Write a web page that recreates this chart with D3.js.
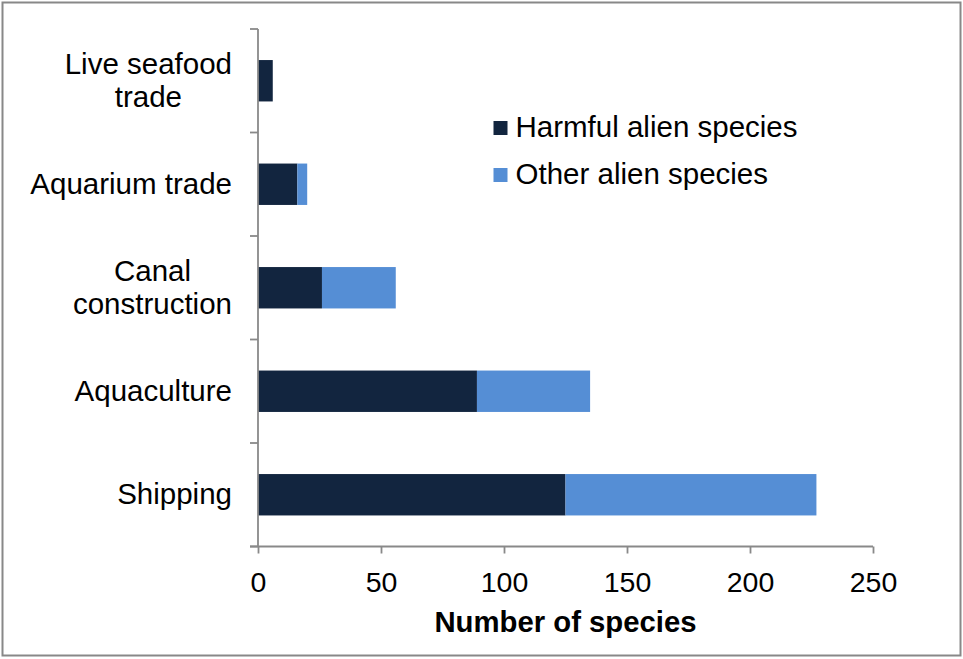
<!DOCTYPE html>
<html>
<head>
<meta charset="utf-8">
<script src="https://cdn.jsdelivr.net/npm/d3@7"></script>
<style>
  html, body { margin: 0; padding: 0; background: #fff; }
  svg { display: block; font-family: "Liberation Sans", Arial, Helvetica, sans-serif; }
</style>
</head>
<body>
<svg id="chart" width="963" height="659"></svg>
<script>
// Pathways of introduction, top to bottom
const categories = ["Live seafood trade", "Aquarium trade", "Canal construction", "Aquaculture", "Shipping"];
const categoryLines = [["Live seafood", "trade"], ["Aquarium trade"], ["Canal", "construction"], ["Aquaculture"], ["Shipping"]];
const harmful = [6, 16, 26, 89, 125];
const other = [0, 4, 30, 46, 102];
const seriesNames = ["Harmful alien species", "Other alien species"];
const seriesColors = ["#12253f", "#558ed5"];
const xTicks = [0, 50, 100, 150, 200, 250];
const xTitle = "Number of species";

const svg = d3.select("#chart");
const axisColor = "#898989";
const tickFont = 28.5;
const labelFont = 29.5;

// outer frame
svg.append("rect")
  .attr("x", 2.5).attr("y", 2.5)
  .attr("width", 958).attr("height", 653)
  .attr("fill", "#fff").attr("stroke", "#888").attr("stroke-width", 2);

const x = d3.scaleLinear().domain([0, 250]).range([258, 873]);
const y = d3.scaleBand().domain(categories).range([29, 546.5])
  .paddingInner(0.6).paddingOuter(0.3);

const rows = categories.map((c, i) => ({ cat: c, harmful: harmful[i], other: other[i] }));
const stack = d3.stack().keys(["harmful", "other"]);
const layers = stack(rows);

svg.append("g").selectAll("g")
  .data(layers)
  .join("g")
  .attr("fill", (d, i) => seriesColors[i])
  .selectAll("rect")
  .data(d => d)
  .join("rect")
  .attr("x", d => x(d[0]))
  .attr("width", d => x(d[1]) - x(d[0]))
  .attr("y", d => y(d.data.cat))
  .attr("height", y.bandwidth());

// x axis
const xAxis = svg.append("g")
  .attr("transform", `translate(0,${y.range()[1]})`)
  .call(d3.axisBottom(x).tickValues(xTicks).tickSize(7).tickPadding(18).tickSizeOuter(0));
xAxis.select(".domain").attr("stroke", axisColor).attr("stroke-width", 1.8)
  .attr("d", `M250,0H${x(250)}`);
xAxis.selectAll(".tick line").attr("stroke", axisColor).attr("stroke-width", 1.8);
xAxis.selectAll(".tick text").attr("font-size", tickFont).attr("fill", "#000")
  .attr("font-family", "Liberation Sans, Arial, sans-serif");

// y axis: line plus ticks on category boundaries
const yAxis = svg.append("g");
yAxis.append("line")
  .attr("x1", x(0)).attr("x2", x(0))
  .attr("y1", y.range()[0]).attr("y2", y.range()[1])
  .attr("stroke", axisColor).attr("stroke-width", 1.8);
const bounds = d3.range(categories.length + 1).map(i => y.range()[0] + i * y.step());
yAxis.selectAll("line.bt")
  .data(bounds)
  .join("line")
  .attr("class", "bt")
  .attr("x1", x(0) - 8).attr("x2", x(0))
  .attr("y1", d => d).attr("y2", d => d)
  .attr("stroke", axisColor).attr("stroke-width", 1.8);

// category labels (multi-line labels centred on each other, block right-aligned)
const labelRight = 232;
const lineH = 32.5;
categories.forEach((c, i) => {
  const lines = categoryLines[i];
  const cy = y(c) + y.bandwidth() / 2;
  const t = svg.append("text")
    .attr("font-size", labelFont).attr("fill", "#000");
  const spans = lines.map((ln, j) => t.append("tspan")
    .text(ln)
    .attr("y", cy + (j - (lines.length - 1) / 2) * lineH)
    .attr("dy", "0.33em"));
  const widths = spans.map(s => s.node().getComputedTextLength());
  const maxW = d3.max(widths);
  spans.forEach(s => s.attr("x", labelRight - maxW / 2).attr("text-anchor", "middle"));
});

// axis title
svg.append("text")
  .attr("x", (x(0) + x(250)) / 2)
  .attr("y", 632)
  .attr("text-anchor", "middle")
  .attr("font-size", 29.3).attr("font-weight", "bold").attr("fill", "#000")
  .text(xTitle);

// legend
const legend = svg.append("g").selectAll("g")
  .data(seriesNames)
  .join("g")
  .attr("transform", (d, i) => `translate(493.5,${137 + i * 47})`);
legend.append("rect")
  .attr("x", 0).attr("y", -16)
  .attr("width", 14).attr("height", 14)
  .attr("fill", (d, i) => seriesColors[i]);
legend.append("text")
  .attr("x", 22).attr("y", 0)
  .attr("font-size", labelFont).attr("fill", "#000")
  .text(d => d);
</script>
</body>
</html>
